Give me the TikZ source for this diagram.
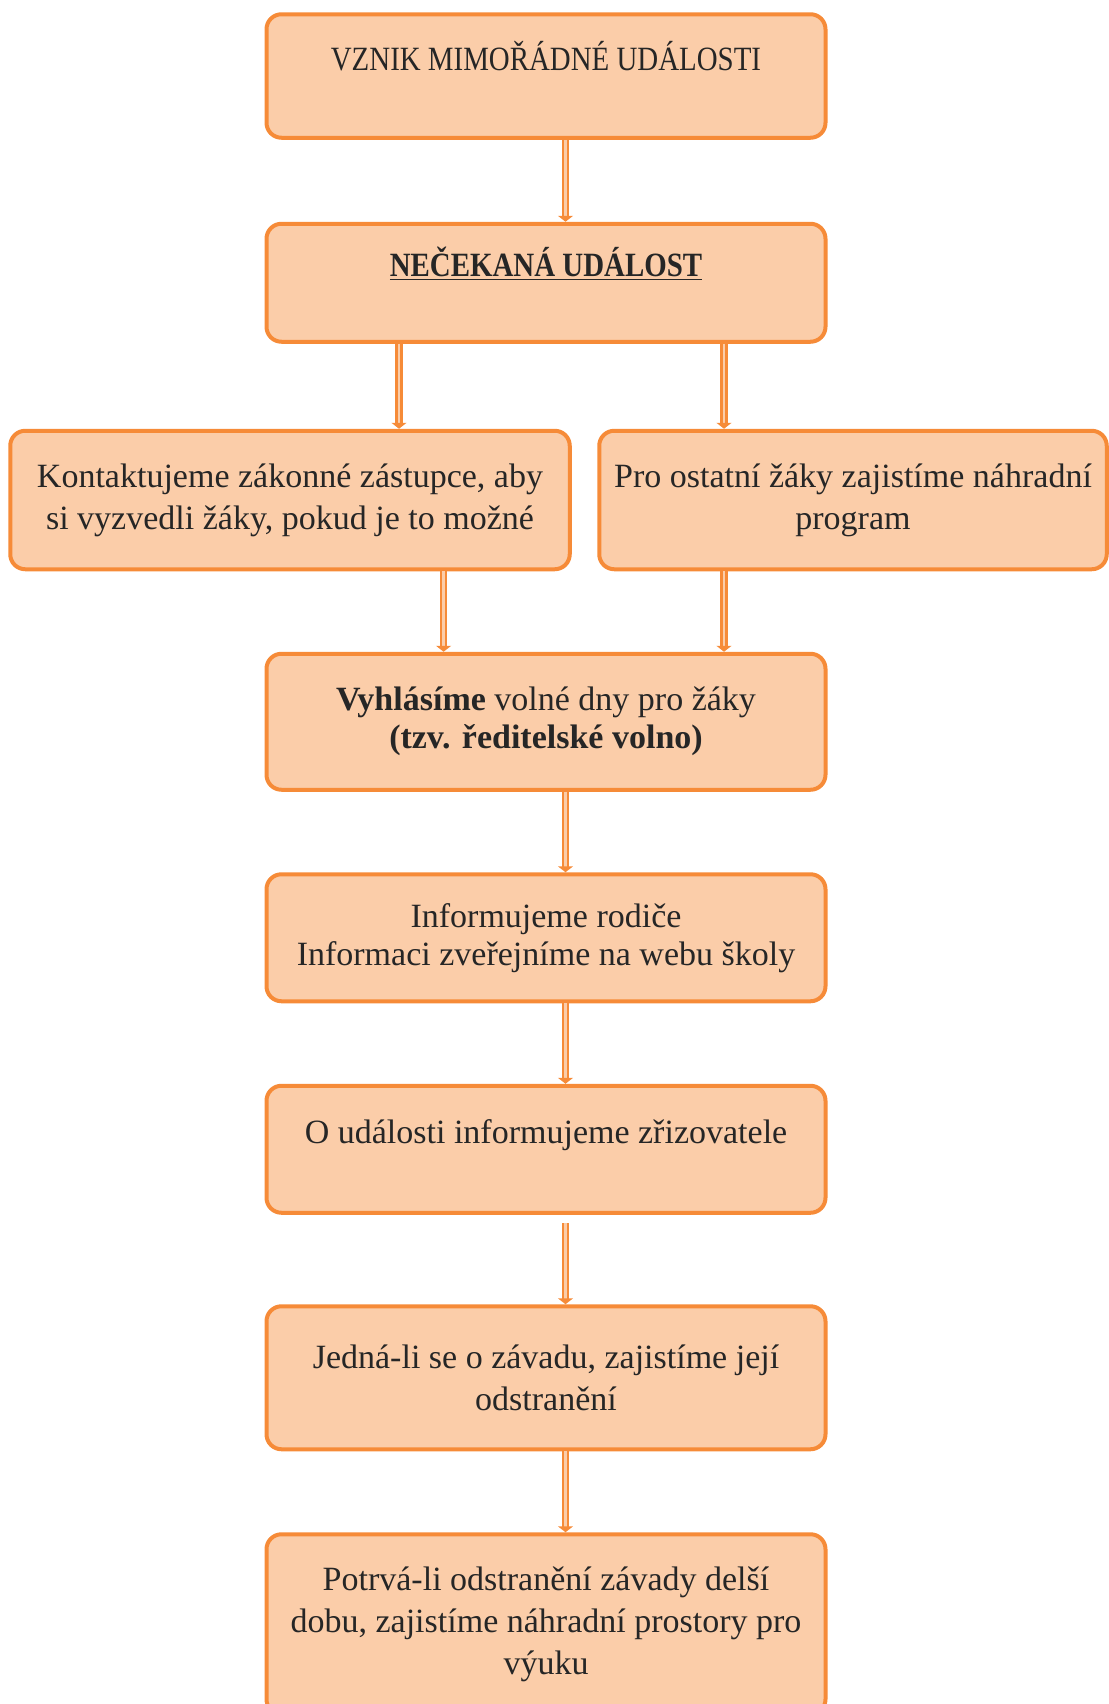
\documentclass[tikz,border=0pt]{standalone}
\usepackage{fontspec}
\setmainfont{Liberation Serif}
\newfontfamily\capsfont{Liberation Serif}[FakeStretch=0.85]
\usetikzlibrary{positioning,arrows.meta}
\definecolor{boxfill}{HTML}{FBCDA9}
\definecolor{boxline}{HTML}{F68B38}
\definecolor{boxtext}{HTML}{262626}

\begin{document}
\begin{tikzpicture}[box/.style={draw=boxline,fill=boxfill,line width=2pt,rounded corners=7.5pt,minimum width=279.5pt,align=center,text=boxtext,inner sep=2pt,font=\fontsize{17}{21}\selectfont},
	topbox/.style={text height=15pt,text depth=21pt},
	flow/.style={draw=boxline,line width=1.2pt,double=boxfill,double distance=1.3pt,-{Triangle[length=3pt,width=7.5pt]}},
	node distance=40.5pt]
		\useasboundingbox (0,0) rectangle (554.5pt,-852pt);

		\node[box,topbox,minimum height=61.75pt,font=\capsfont\fontsize{17}{21}\selectfont]			(vznik)			at (273pt,-38pt)	{VZNIK MIMOŘÁDNÉ UDÁLOSTI};
		\node[box,topbox,minimum height=59pt,font=\capsfont\fontsize{17}{21}\selectfont,below=41pt of vznik]	(necekana)		{\textbf{\underline{NEČEKANÁ UDÁLOST}}};
		\node[box,minimum height=69.25pt,minimum width=279.75pt,below=42.5pt of necekana,xshift=-128pt]	(kontakt)		{Kontaktujeme zákonné zástupce, aby\\si vyzvedli žáky, pokud je to možné};
		\node[box,minimum height=69.25pt,minimum width=253.75pt,below=42.5pt of necekana,xshift=153.5pt]	(program)		{Pro ostatní žáky zajistíme náhradní\\program};
		\node[box,minimum height=68pt,below=40.25pt of kontakt,xshift=128pt]							(vyhlasime)		{\textbf{Vyhlásíme} volné dny pro žáky\\[-2pt]\textbf{(tzv. ředitelské volno)}};
		\node[box,minimum height=63.5pt,below=40.25pt of vyhlasime]									(informace)		{Informujeme rodiče\\[-2pt]Informaci zveřejníme na webu školy};
		\node[box,topbox,minimum height=63.5pt,below=40.25pt of informace]							(zrizovatel)	{O události informujeme zřizovatele};
		\node[box,minimum height=71.5pt,below=44.75pt of zrizovatel]								(zavada)		{Jedná-li se o závadu, zajistíme její\\odstranění};
		\node[box,minimum height=90pt,below=of zavada]												(prostory)		{Potrvá-li odstranění závady delší\\dobu, zajistíme náhradní prostory pro\\výuku};

		\coordinate (mid)	at (282.75pt,0);
		\coordinate (lcol1)	at (199.5pt,0);
		\coordinate (lcol2)	at (221.8pt,0);
		\coordinate (rcol)	at (362pt,0);

		\draw[flow] (vznik.south -| mid) -- (necekana.north -| mid);
		\draw[flow] (necekana.south -| lcol1) -- (kontakt.north -| lcol1);
		\draw[flow] (necekana.south -| rcol) -- (program.north -| rcol);
		\draw[flow] (kontakt.south -| lcol2) -- (vyhlasime.north -| lcol2);
		\draw[flow] (program.south -| rcol) -- (vyhlasime.north -| rcol);
		\draw[flow] (vyhlasime.south -| mid) -- (informace.north -| mid);
		\draw[flow] (informace.south -| mid) -- (zrizovatel.north -| mid);
		\draw[flow,shorten <=4.25pt] (zrizovatel.south -| mid) -- (zavada.north -| mid);
		\draw[flow] (zavada.south -| mid) -- (prostory.north -| mid);
	\end{tikzpicture}
\end{document}
